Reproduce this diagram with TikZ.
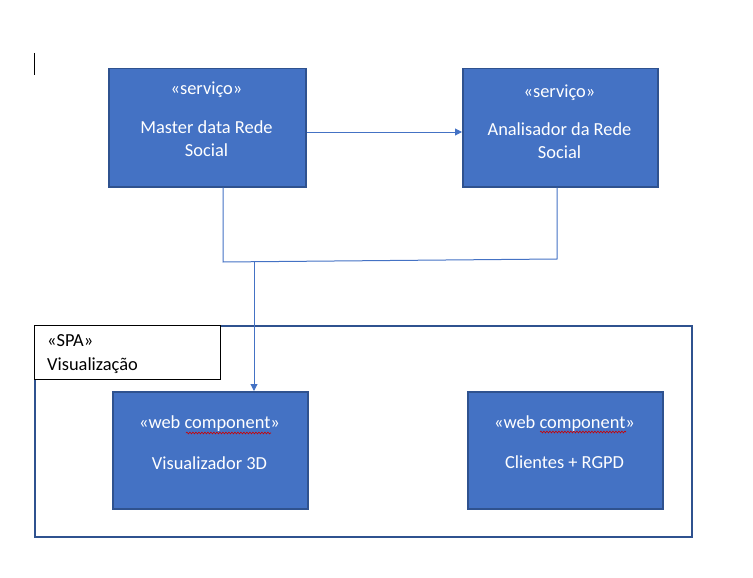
\documentclass[tikz,border=0pt]{standalone}
\usepackage{fontspec}
\setmainfont{Carlito}
\usetikzlibrary{arrows.meta,decorations.pathmorphing}
\definecolor{boxfill}{HTML}{4472C4}
\definecolor{boxedge}{HTML}{2F528F}
\definecolor{linecol}{HTML}{4472C4}
\tikzset{
  comp/.style={draw=boxedge, line width=1.5pt, fill=boxfill, inner sep=0pt},
  lbl/.style={text=white, font=\fontsize{18.4}{23.5}\selectfont, align=center, inner sep=0pt},
  conn/.style={draw=linecol, line width=1pt},
  arr/.style={conn, -{Triangle[width=7pt,length=7pt]}},
  spell/.style={draw=red!80!black, line width=0.6pt, decorate, decoration={snake, amplitude=0.9pt, segment length=3pt}}
}
\begin{document}
\begin{tikzpicture}[x=1pt,y=-1pt]
\useasboundingbox (0,0) rectangle (753,578);
% cursor
\draw[line width=1pt] (34.5,53) -- (34.5,75);
% service boxes
\node[comp, minimum width=197pt, minimum height=118pt, anchor=north west] (master) at (108,68) {};
\node[comp, minimum width=195pt, minimum height=118pt, anchor=north west] (anal) at (462,68) {};
\node[lbl] (mt1) at (206.5,89.5) {«serviço»};
\node[lbl] (mt2) at (206.5,138.5) {Master data Rede\\Social};
\node[lbl] (at1) at (559.5,92.5) {«serviço»};
\node[lbl] (at2) at (559.5,140.5) {Analisador da Rede\\Social};
% SPA container
\node[draw=boxedge, line width=1.5pt, minimum width=657pt, minimum height=211pt, anchor=north west, inner sep=0pt] (spa) at (34,325) {};
\node[draw=black, line width=1pt, fill=white, minimum width=186pt, minimum height=54pt, anchor=north west, inner sep=0pt] (spalbl) at (34,325) {};
\node[anchor=west, font=\fontsize{18.4}{23.5}\selectfont, inner sep=0pt] (spa1) at (47,341) {«SPA»};
\node[anchor=west, font=\fontsize{18.4}{23.5}\selectfont, inner sep=0pt] (spa2) at (47,366) {Visualização};
% web components
\node[comp, minimum width=195pt, minimum height=117pt, anchor=north west] (vis) at (112,391) {};
\node[comp, minimum width=195pt, minimum height=117pt, anchor=north west] (cli) at (467,391) {};
\node[lbl] (vt1) at (209.5,424) {«web component»};
\node[lbl] (vt2) at (209.5,463) {Visualizador 3D};
\node[lbl] (ct1) at (564.5,424) {«web component»};
\node[lbl] (ct2) at (564.5,462) {Clientes + RGPD};
% spell marks
\draw[spell] (186,433) -- (271,433);
\draw[spell] (540,432) -- (626,432);
% connectors
\coordinate (j1) at (223,262);
\coordinate (j2) at (557,259);
\coordinate (jm) at (254,262);
\draw[arr] (master.east |- 0,132) -- (anal.west |- 0,132);
\draw[conn] (master.south -| j1) -- (j1) -- (j2) -- (anal.south -| j2);
\draw[arr] (jm) -- (vis.north -| jm);
\end{tikzpicture}
\end{document}
